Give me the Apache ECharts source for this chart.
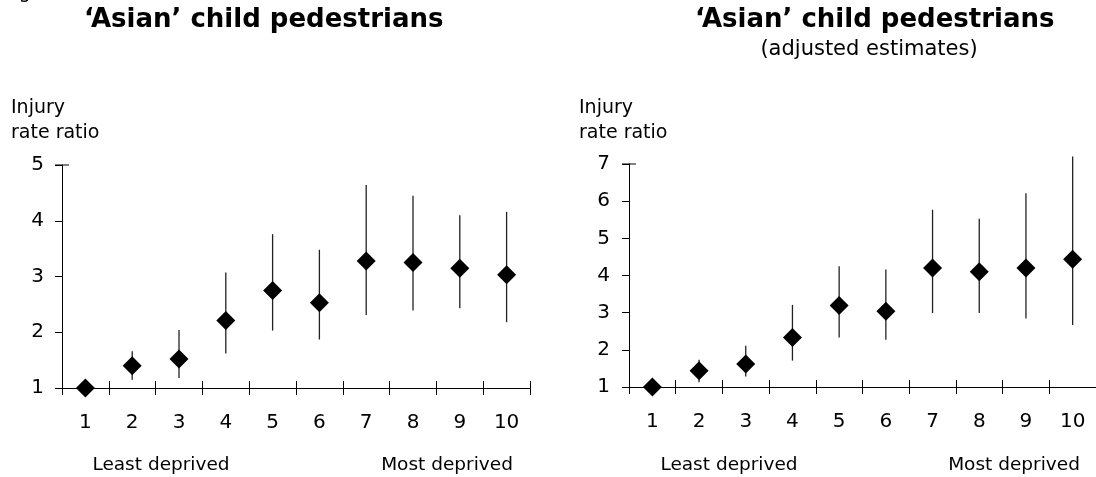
<!DOCTYPE html>
<html>
<head>
<meta charset="utf-8">
<script src="https://cdn.jsdelivr.net/npm/echarts@6/dist/echarts.min.js"></script>
<style>
html,body{margin:0;padding:0;background:#fff;}
#chart{width:1096px;height:477px;}
</style>
</head>
<body>
<div id="chart"></div>
<script>
const categories = ['1','2','3','4','5','6','7','8','9','10'];
const leftEst  = [1.00, 1.40, 1.52, 2.21, 2.75, 2.53, 3.28, 3.25, 3.15, 3.03];
const leftLow  = [1.00, 1.15, 1.18, 1.62, 2.03, 1.87, 2.31, 2.39, 2.43, 2.18];
const leftHigh = [1.00, 1.66, 2.04, 3.07, 3.76, 3.48, 4.64, 4.45, 4.10, 4.16];
const rightEst  = [1.00, 1.44, 1.62, 2.33, 3.19, 3.04, 4.20, 4.10, 4.20, 4.44];
const rightLow  = [1.00, 1.13, 1.28, 1.71, 2.33, 2.27, 2.99, 2.99, 2.84, 2.67];
const rightHigh = [1.00, 1.73, 2.11, 3.21, 4.25, 4.16, 5.77, 5.53, 6.21, 7.20];
const leftTicks = {min: 1, max: 5, interval: 1};
const rightTicks = {min: 1, max: 7, interval: 1};

const FONT = "'DejaVu Sans', Verdana, sans-serif";
const chart = echarts.init(document.getElementById('chart'), null, {renderer: 'canvas'});

function mainX(grid) {
  return {
    type: 'category', gridIndex: grid, data: categories, position: 'bottom',
    axisLine: {onZero: false, lineStyle: {color: '#000', width: 1}},
    axisTick: {show: true, inside: false, length: 7, lineStyle: {color: '#000'}},
    axisLabel: {color: '#000', fontSize: 20, fontFamily: FONT, margin: 25},
    splitLine: {show: false}
  };
}
function innerX(grid) {
  return {
    type: 'category', gridIndex: grid, data: categories, position: 'bottom',
    axisLine: {show: false, onZero: false},
    axisTick: {show: true, inside: true, length: 7, lineStyle: {color: '#000'}},
    axisLabel: {show: false},
    splitLine: {show: false}
  };
}
function yAx(grid, t, margin) {
  return {
    type: 'value', gridIndex: grid, min: t.min, max: t.max, interval: t.interval,
    axisLine: {show: true, symbol: ['none', 'rect'], symbolSize: [14, 1], lineStyle: {color: '#000', width: 1}},
    axisTick: {show: true, inside: false, length: 7, lineStyle: {color: '#000'}},
    axisLabel: {color: '#000', fontSize: 20, fontFamily: FONT, margin: margin},
    splitLine: {show: false}
  };
}
function bars(xi, yi, lo, hi) {
  return {
    type: 'custom', xAxisIndex: xi, yAxisIndex: yi, clip: false, z: 2,
    data: categories.map((c, i) => [i, lo[i], hi[i]]),
    encode: {x: 0, y: [1, 2]},
    renderItem: function (params, api) {
      const x = api.value(0);
      const a = api.coord([x, api.value(1)]);
      const b = api.coord([x, api.value(2)]);
      return {type: 'line', shape: {x1: a[0], y1: a[1], x2: b[0], y2: b[1]},
              style: {stroke: '#222', lineWidth: 1.3}};
    }
  };
}
function pts(xi, yi, vals) {
  return {
    type: 'scatter', xAxisIndex: xi, yAxisIndex: yi, data: vals, clip: false, z: 3,
    symbol: 'diamond', symbolSize: 19, itemStyle: {color: '#000', opacity: 1},
    emphasis: {disabled: true}
  };
}
function txt(s, x, y, size, weight, align) {
  return {type: 'text', x: x, y: y, silent: true,
    style: {text: s, fontSize: size, fontFamily: FONT, fontWeight: weight || 'normal',
            fill: '#000', align: align || 'left', verticalAlign: 'middle'}};
}

chart.setOption({
  animation: false,
  backgroundColor: '#fff',
  grid: [
    {left: 62, top: 165, width: 468, height: 223},
    {left: 629, top: 164, width: 467, height: 223}
  ],
  xAxis: [mainX(0), innerX(0), mainX(1), innerX(1)],
  yAxis: [yAx(0, leftTicks, 18), yAx(1, rightTicks, 19)],
  series: [
    bars(0, 0, leftLow, leftHigh), pts(0, 0, leftEst),
    bars(2, 1, rightLow, rightHigh), pts(2, 1, rightEst)
  ],
  graphic: [
    txt('Figure', 4, -7, 19),
    txt('\u2018Asian\u2019 child pedestrians', 84, 20, 26, 'bold'),
    txt('\u2018Asian\u2019 child pedestrians', 695, 20, 26, 'bold'),
    txt('(adjusted estimates)', 869, 50, 21, 'normal', 'center'),
    txt('Injury', 11, 108, 19),
    txt('rate ratio', 11, 133, 19),
    txt('Injury', 579, 108, 19),
    txt('rate ratio', 579, 133, 19),
    txt('Least deprived', 161, 465, 18.5, 'normal', 'center'),
    txt('Most deprived', 447, 465, 18.5, 'normal', 'center'),
    txt('Least deprived', 729, 465, 18.5, 'normal', 'center'),
    txt('Most deprived', 1014, 465, 18.5, 'normal', 'center')
  ]
});
</script>
</body>
</html>
